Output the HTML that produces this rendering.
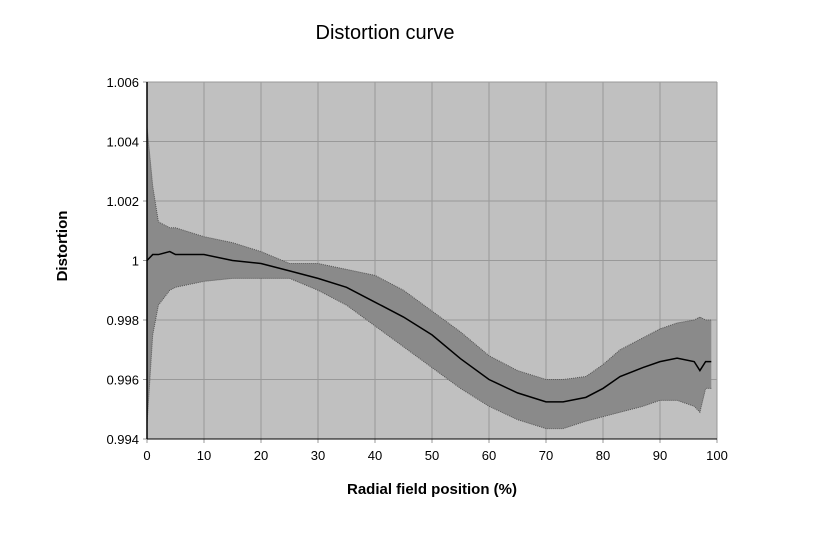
<!DOCTYPE html>
<html><head><meta charset="utf-8"><style>
body{margin:0;background:#fff;font-family:"Liberation Sans",Arial,sans-serif}
svg text{font-family:"Liberation Sans",Arial,sans-serif}
</style></head><body>
<svg id="chart" width="840" height="530" xmlns="http://www.w3.org/2000/svg">
<rect x="0" y="0" width="840" height="530" fill="#fff"/>
<text x="385" y="39" font-size="20" text-anchor="middle">Distortion curve</text>
<text x="432" y="494" font-size="15" font-weight="bold" text-anchor="middle">Radial field position (%)</text>
<text transform="translate(67,246) rotate(-90)" font-size="15" font-weight="bold" text-anchor="middle">Distortion</text>
<g id="plot"></g>
</svg>
<script>
const xs=[0,1,2,4,5,10,15,20,25,30,35,40,45,50,55,60,65,70,73,77,80,83,87,90,93,96,97,98,99];
const meanVals=[1.0000,1.0002,1.0002,1.0003,1.0002,1.0002,1.0000,0.9999,0.99965,0.9994,0.9991,0.9986,0.9981,0.9975,0.9967,0.9960,0.99555,0.99525,0.99525,0.9954,0.9957,0.9961,0.9964,0.9966,0.99672,0.9966,0.9963,0.9966,0.9966];
const upperVals=[1.0045,1.0025,1.0013,1.0011,1.0011,1.0008,1.0006,1.0003,0.9999,0.9999,0.9997,0.9995,0.9990,0.9983,0.9976,0.9968,0.9963,0.9960,0.9960,0.9961,0.9965,0.9970,0.9974,0.9977,0.9979,0.9980,0.9981,0.9980,0.9980];
const lowerVals=[0.9945,0.9975,0.9985,0.9990,0.9991,0.9993,0.9994,0.9994,0.9994,0.9990,0.9985,0.9978,0.9971,0.9964,0.9957,0.9951,0.99465,0.99435,0.99435,0.9946,0.99475,0.9949,0.9951,0.9953,0.9953,0.9951,0.9949,0.9957,0.9957];
const xTicks=[0,10,20,30,40,50,60,70,80,90,100];
const yTicks=[0.994,0.996,0.998,1,1.002,1.004,1.006];
const yLabels=["0.994","0.996","0.998","1","1.002","1.004","1.006"];
const L=147,R=717,T=82,B=439,ymin=0.994,ymax=1.006;
const sx=v=>L+(v-0)/100*(R-L);
const sy=v=>B-(v-ymin)/(ymax-ymin)*(B-T);
const NS="http://www.w3.org/2000/svg";
const g=document.getElementById('plot');
function mk(t,a){const e=document.createElementNS(NS,t);for(const k in a)e.setAttribute(k,a[k]);g.appendChild(e);return e;}
const bg=mk('rect',{x:L,y:T,width:R-L,height:B-T,fill:'#c0c0c0'});


xTicks.forEach((t,i)=>{
 const l=mk('line',{x1:sx(t),x2:sx(t),y1:T,y2:B+4,stroke:'#999','stroke-width':1});
 
 
 const tx=mk('text',{x:sx(t),y:B+21,'font-size':13,'text-anchor':'middle'});
 tx.textContent=t;
 
 
});
yTicks.forEach((t,i)=>{
 const l=mk('line',{x1:L-4,x2:R,y1:sy(t),y2:sy(t),stroke:'#999','stroke-width':1});
 
 
 const tx=mk('text',{x:L-8,y:sy(t)+5,'font-size':13,'text-anchor':'end'});
 tx.textContent=yLabels[i];
 
 
});
const up=xs.map((x,i)=>sx(x)+','+sy(upperVals[i]));
const lo=xs.map((x,i)=>sx(x)+','+sy(lowerVals[i])).reverse();
const band=mk('polygon',{points:up.concat(lo).join(' '),fill:'#8a8a8a',stroke:'none'});


const ul=mk('polyline',{points:up.join(' '),fill:'none',stroke:'#555','stroke-width':1,'stroke-dasharray':'1,1'});


const ll=mk('polyline',{points:lo.join(' '),fill:'none',stroke:'#555','stroke-width':1,'stroke-dasharray':'1,1'});


const ml=mk('polyline',{points:xs.map((x,i)=>sx(x)+','+sy(meanVals[i])).join(' '),fill:'none',stroke:'#000','stroke-width':1.5});


const ax1=mk('line',{x1:L,x2:L,y1:T,y2:B,stroke:'#000','stroke-width':1.5});


const ax2=mk('line',{x1:L,x2:R,y1:B,y2:B,stroke:'#000','stroke-width':1});


</script>
</body></html>
